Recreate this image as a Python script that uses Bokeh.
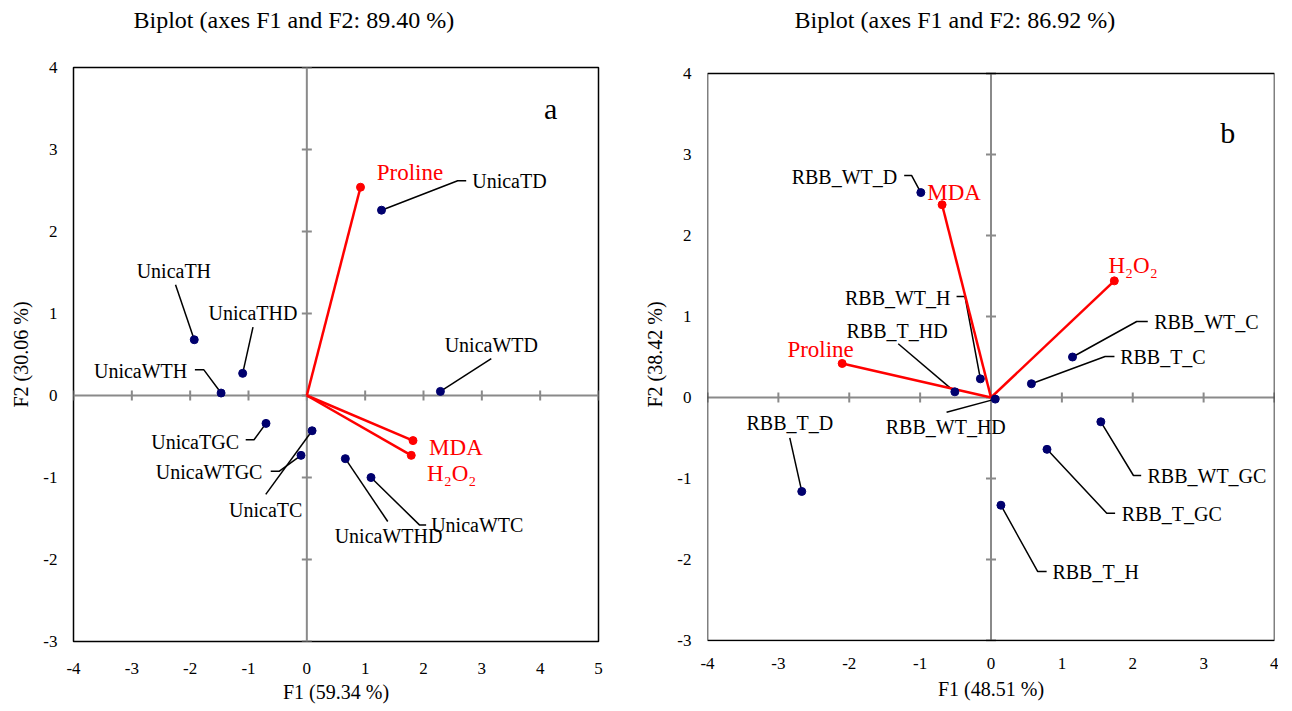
import math
from bokeh.plotting import figure
from bokeh.layouts import row
from bokeh.models import FixedTicker, BoxAnnotation, LinearAxis
from bokeh.core.properties import value
from bokeh.embed import file_html
from bokeh.resources import INLINE

FONT = "Liberation Serif"

# ---------------- data: panel a ----------------
a_obs = ["UnicaTD", "UnicaTH", "UnicaTHD", "UnicaWTH", "UnicaWTD",
         "UnicaTGC", "UnicaTC", "UnicaWTGC", "UnicaWTHD", "UnicaWTC"]
a_obs_x = [1.28, -1.93, -1.10, -1.47, 2.29, -0.70, 0.09, -0.10, 0.66, 1.10]
a_obs_y = [2.26, 0.68, 0.27, 0.03, 0.05, -0.34, -0.43, -0.73, -0.77, -1.00]
a_var = ["Proline", "MDA", "H₂O₂"]
a_var_x = [0.92, 1.82, 1.79]
a_var_y = [2.54, -0.55, -0.73]
a_xticks = [-4, -3, -2, -1, 0, 1, 2, 3, 4, 5]
a_yticks = [-3, -2, -1, 0, 1, 2, 3, 4]
a_title = "Biplot (axes F1 and F2: 89.40 %)"
a_xlabel = "F1 (59.34 %)"
a_ylabel = "F2 (30.06 %)"

# ---------------- data: panel b ----------------
b_obs = ["RBB_WT_D", "RBB_WT_H", "RBB_T_HD", "RBB_WT_HD", "RBB_T_D",
         "RBB_T_H", "RBB_WT_C", "RBB_T_C", "RBB_WT_GC", "RBB_T_GC"]
b_obs_x = [-0.99, -0.15, -0.51, 0.06, -2.67, 0.14, 1.15, 0.57, 1.55, 0.79]
b_obs_y = [2.53, 0.23, 0.07, -0.02, -1.16, -1.33, 0.50, 0.17, -0.30, -0.64]
b_var = ["MDA", "Proline", "H₂O₂"]
b_var_x = [-0.69, -2.10, 1.74]
b_var_y = [2.38, 0.42, 1.44]
b_xticks = [-4, -3, -2, -1, 0, 1, 2, 3, 4]
b_yticks = [-3, -2, -1, 0, 1, 2, 3, 4]
b_title = "Biplot (axes F1 and F2: 86.92 %)"
b_xlabel = "F1 (48.51 %)"
b_ylabel = "F2 (38.42 %)"

# ---------------- label layout (annotation placement) ----------------
# name: (label x, label y, align, leader knee points)
a_obs_lab = {
    "UnicaTD":   (2.835, 2.612, "left",   [(2.586, 2.618), (2.732, 2.618)]),
    "UnicaTH":   (-2.280, 1.513, "center", [(-2.251, 1.352)]),
    "UnicaTHD":  (-0.924, 1.008, "center", [(-0.923, 0.834)]),
    "UnicaWTH":  (-2.050, 0.301, "right",  [(-1.765, 0.313), (-1.919, 0.313)]),
    "UnicaWTD":  (3.162, 0.612, "center", [(3.162, 0.451)]),
    "UnicaTGC":  (-1.163, -0.567, "right", [(-0.905, -0.539), (-1.048, -0.539)]),
    "UnicaTC":   (-0.704, -1.396, "center", [(-0.704, -1.206)]),
    "UnicaWTGC": (-0.761, -0.931, "right", [(-0.476, -0.924), (-0.619, -0.924)]),
    "UnicaWTHD": (1.400, -1.719, "center", [(1.387, -1.537)]),
    "UnicaWTC":  (2.131, -1.582, "left",   [(1.930, -1.578), (2.045, -1.578)]),
}
a_var_lab = {"Proline": (1.198, 2.725), "MDA": (2.096, -0.636), "H₂O₂": (2.062, -0.952)}
a_letter = ("a", 4.18, 3.50)

b_obs_lab = {
    "RBB_WT_D":  (-1.323, 2.720, "right",  [(-1.121, 2.741), (-1.225, 2.741)]),
    "RBB_WT_H":  (-0.571, 1.226, "right",  [(-0.367, 1.247), (-0.486, 1.247)]),
    "RBB_T_HD":  (-1.326, 0.827, "center", [(-1.309, 0.663)]),
    "RBB_WT_HD": (-0.638, -0.367, "center", [(-0.627, -0.181)]),
    "RBB_T_D":   (-2.839, -0.317, "center", [(-2.839, -0.498)]),
    "RBB_T_H":   (0.866, -2.157, "left",   [(0.658, -2.148), (0.785, -2.148)]),
    "RBB_WT_C":  (2.302, 0.930, "left",    [(2.056, 0.938), (2.212, 0.938)]),
    "RBB_T_C":   (1.822, 0.498, "left",    [(1.610, 0.506), (1.742, 0.506)]),
    "RBB_WT_GC": (2.208, -0.963, "left",   [(2.010, -0.963), (2.119, -0.963)]),
    "RBB_T_GC":  (1.845, -1.436, "left",   [(1.633, -1.428), (1.751, -1.428)]),
}
b_var_lab = {"MDA": (-0.900, 2.535), "Proline": (-2.873, 0.593), "H₂O₂": (1.657, 1.630)}
b_letter = ("b", 3.34, 3.27)

AXIS_GRAY = "#8a8a8a"
NAVY = "#00006e"
RED = "#ff0000"

FRAME_H = 574
BORDER_TOP = 67
BORDER_BOTTOM = 66


def make_panel(obs, ox, oy, var, vx, vy, xticks, yticks, title, xlabel, ylabel,
               obs_lab, var_lab, letter, fw, bl, br, pad_top, pad_bot,
               title_offset, xtick_standoff, xlab_standoff):
    ytop = yticks[-1] + pad_top
    ybot = yticks[0] - pad_bot
    p = figure(frame_width=fw, frame_height=FRAME_H,
               x_range=(xticks[0], xticks[-1]), y_range=(ybot, ytop),
               output_backend="svg", toolbar_location=None,
               min_border_left=bl, min_border_right=br,
               min_border_top=BORDER_TOP, min_border_bottom=BORDER_BOTTOM)
    p.background_fill_color = "white"
    p.border_fill_color = "white"
    p.grid.visible = False
    if pad_top == 0 and pad_bot == 0:
        p.outline_line_color = "black"
        p.outline_line_alpha = 1.0
        p.outline_line_width = 1.5
    else:
        p.outline_line_color = None
        p.add_layout(BoxAnnotation(left=xticks[0], right=xticks[-1], bottom=yticks[0],
                                   top=yticks[-1], fill_color=None, fill_alpha=0,
                                   line_color="black", line_alpha=1.0, line_width=1.5))

    xax = p.below[0]
    yax = p.left[0]
    for ax, ticks, lab in ((xax, xticks, xlabel), (yax, yticks, ylabel)):
        ax.ticker = FixedTicker(ticks=ticks)
        ax.major_label_overrides = {t: str(t) for t in ticks}
        ax.major_tick_out = 0
        ax.major_tick_in = 0
        ax.minor_tick_out = 0
        ax.minor_tick_in = 0
        ax.axis_line_color = None
        ax.major_label_text_font = FONT
        ax.major_label_text_font_size = "17px"
        ax.major_label_text_color = "black"
        ax.axis_label = lab
        ax.axis_label_text_font = FONT
        ax.axis_label_text_font_size = "20px"
        ax.axis_label_text_font_style = "normal"
        ax.axis_label_text_color = "black"
    xax.major_label_standoff = xtick_standoff
    xax.axis_label_standoff = xlab_standoff
    yax.major_label_standoff = 16
    yax.axis_label_standoff = 8

    # invisible spacer axis above the frame (one hidden tick), to lift the title
    spacer = LinearAxis(ticker=FixedTicker(ticks=[xticks[0]]), axis_line_color=None,
                        major_tick_out=35, major_tick_in=0, major_tick_line_color=None,
                        minor_tick_out=0, minor_tick_in=0, major_label_standoff=0,
                        major_label_text_font_size="1px", major_label_text_color=None,
                        major_label_overrides={xticks[0]: ""})
    p.add_layout(spacer, "above")

    p.title.text = title
    p.title.text_font = FONT
    p.title.text_font_size = "24px"
    p.title.text_font_style = "normal"
    p.title.text_color = "black"
    p.title.align = "left"
    p.title.offset = title_offset
    p.title.vertical_align = "bottom"
    p.title.standoff = 0

    # central axes with tick marks
    p.segment(x0=[xticks[0], 0], y0=[0, yticks[0]], x1=[xticks[-1], 0], y1=[0, yticks[-1]],
              line_color=AXIS_GRAY, line_width=2)
    p.scatter(x=xticks, y=[0] * len(xticks), marker="dash", size=10, angle=math.pi / 2,
              line_color=AXIS_GRAY, line_width=2)
    p.scatter(x=[0] * len(yticks), y=yticks, marker="dash", size=10,
              line_color=AXIS_GRAY, line_width=2)

    # leader lines
    lxs, lys = [], []
    for name, x, y in zip(obs, ox, oy):
        knees = obs_lab[name][3]
        lxs.append([x] + [k[0] for k in knees])
        lys.append([y] + [k[1] for k in knees])
    p.multi_line(xs=lxs, ys=lys, line_color="black", line_width=1.5)

    # variable vectors
    p.segment(x0=[0] * len(var), y0=[0] * len(var), x1=vx, y1=vy,
              line_color=RED, line_width=2.5)
    p.scatter(x=vx, y=vy, size=8, fill_color=RED, line_color=RED)

    # observations
    p.scatter(x=ox, y=oy, size=8, fill_color=NAVY, line_color=NAVY)

    # observation labels
    for align in ("left", "center", "right"):
        names = [n for n in obs if obs_lab[n][2] == align]
        if not names:
            continue
        p.text(x=[obs_lab[n][0] for n in names], y=[obs_lab[n][1] for n in names],
               text=names, text_align=align, text_baseline="middle",
               text_font=value(FONT), text_font_size="20px", text_color="black")

    # variable labels
    p.text(x=[var_lab[n][0] for n in var], y=[var_lab[n][1] for n in var], text=var,
           text_align="left", text_baseline="middle",
           text_font=value(FONT), text_font_size="23px", text_color=RED)

    # panel letter
    p.text(x=[letter[1]], y=[letter[2]], text=[letter[0]], text_align="center",
           text_baseline="middle", text_font=value(FONT), text_font_size="30px",
           text_color="black")
    return p


pa = make_panel(a_obs, a_obs_x, a_obs_y, a_var, a_var_x, a_var_y, a_xticks, a_yticks,
                a_title, a_xlabel, a_ylabel, a_obs_lab, a_var_lab, a_letter,
                fw=525, bl=73, br=35, pad_top=0.0, pad_bot=0.0,
                title_offset=60, xtick_standoff=21, xlab_standoff=4)
pb = make_panel(b_obs, b_obs_x, b_obs_y, b_var, b_var_x, b_var_y, b_xticks, b_yticks,
                b_title, b_xlabel, b_ylabel, b_obs_lab, b_var_lab, b_letter,
                fw=567, bl=74, br=4, pad_top=6 / 81, pad_bot=1 / 81,
                title_offset=87, xtick_standoff=16, xlab_standoff=6)

layout = row(pa, pb)
open("out.html", "w").write(file_html(layout, INLINE))
